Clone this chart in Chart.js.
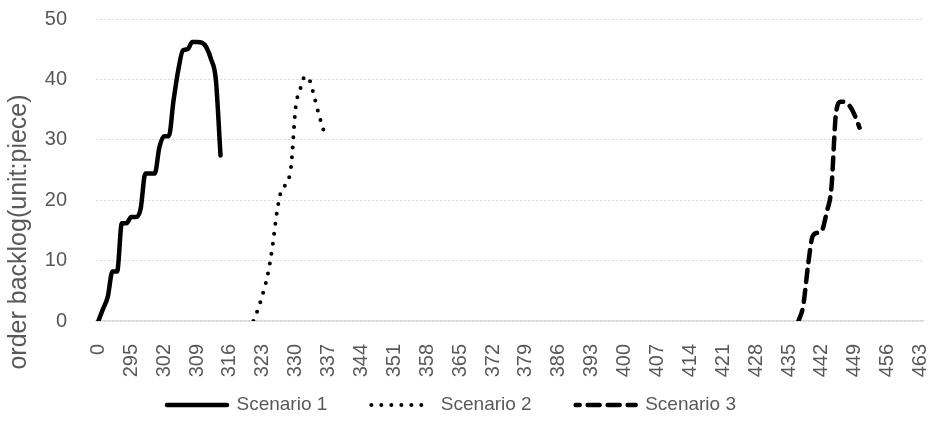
<!DOCTYPE html>
<html>
<head>
<meta charset="utf-8">
<script src="https://cdn.jsdelivr.net/npm/chart.js@4.4.1/dist/chart.umd.min.js"></script>
<style>
  html, body { margin: 0; padding: 0; background: #ffffff; }
</style>
</head>
<body>
<canvas id="myChart" width="929" height="430"></canvas>
<script>
//CATEGORIES: DAY 0, THEN DAYS 289..463
const days = [0];
for (let d = 289; d <= 463; d++) days.push(d);

//TICK LABELS SHOWN ON THE X AXIS
const tickLabels = [0, 295, 302, 309, 316, 323, 330, 337, 344, 351, 358, 365, 372,
  379, 386, 393, 400, 407, 414, 421, 428, 435, 442, 449, 456, 463];
const yTicks = [0, 10, 20, 30, 40, 50];

//SERIES (first day + values)
const scenario1Start = 0;
const scenario1 = [0, 2, 4, 8.2, 8.2, 16.2, 16.2, 17.2, 17.2, 18.6, 24.4, 24.4, 24.4,
  28.8, 30.6, 30.6, 36.5, 41.5, 44.8, 45, 46.2, 46.2, 46.1, 45.3, 43.3, 40, 27.4];
const scenario2Start = 321;
const scenario2 = [0, 2, 4.5, 7.5, 12, 18, 21.8, 22.7, 25.5, 35.4, 38.5, 40.5, 39.8,
  37, 34, 31.4];
const scenario3Start = 437;
const scenario3 = [0, 2.5, 9, 14, 14.6, 15, 18, 22, 34.5, 36.3, 36.2, 35.5, 34, 32];

const seriesNames = ["Scenario 1", "Scenario 2", "Scenario 3"];

const fontFamily = "'Liberation Sans', Arial, sans-serif";
const textColor = "#595959";

function spread(start, values) {
  const out = days.map(() => null);
  const i = days.indexOf(start);
  values.forEach((v, k) => { out[i + k] = v; });
  return out;
}

//Y AXIS TITLE (sits lower than the plot centre in the original)
const yTitle = {
  id: "yTitle",
  afterLayout(chart) {
    // let the rotated x labels run below the axis box without being clipped
    const x = chart.scales.x;
    x.bottom = chart.height;
    x.height = x.bottom - x.top;
    // legend sits a little left of centre
    chart.legend.left -= 10;
    chart.legend.right -= 10;
  },
  afterDraw(chart) {
    const ctx = chart.ctx;
    ctx.save();
    ctx.translate(19, 232);
    ctx.rotate(-Math.PI / 2);
    ctx.font = "25px " + fontFamily;
    ctx.fillStyle = textColor;
    ctx.textAlign = "center";
    ctx.textBaseline = "middle";
    ctx.fillText("order backlog(unit:piece)", 0, 0);
    ctx.restore();
  }
};

const lineBase = {
  borderColor: "#000000",
  backgroundColor: "#000000",
  pointRadius: 0,
  borderCapStyle: "round",
  cubicInterpolationMode: "monotone",
  spanGaps: false
};

const data = {
  labels: days,
  datasets: [
    Object.assign({}, lineBase, {
      label: seriesNames[0],
      data: spread(scenario1Start, scenario1),
      borderWidth: 4.5
    }),
    Object.assign({}, lineBase, {
      label: seriesNames[1],
      data: spread(scenario2Start, scenario2),
      borderWidth: 4,
      borderDash: [0, 10]
    }),
    Object.assign({}, lineBase, {
      label: seriesNames[2],
      data: spread(scenario3Start, scenario3),
      borderWidth: 4.5,
      borderDash: [12, 8]
    })
  ]
};

const config = {
  type: "line",
  data: data,
  options: {
    responsive: false,
    animation: false,
    layout: { padding: { top: 19, right: 6, bottom: 5.5, left: 0 } },
    plugins: {
      legend: {
        position: "bottom",
        labels: {
          usePointStyle: true,
          pointStyle: "line",
          pointStyleWidth: 60,
          padding: 44,
          color: textColor,
          font: { family: fontFamily, size: 19 },
          generateLabels: function (chart) {
            const items = Chart.defaults.plugins.legend.labels.generateLabels(chart);
            items.forEach((item) => {
              const ds = chart.data.datasets[item.datasetIndex];
              item.lineDash = ds.borderDash || [];
              item.lineDashOffset = ds.borderDash && ds.borderDash[0] > 0 ? 8 : 0;
              item.lineWidth = ds.borderWidth;
              item.lineCap = "round";
              item.strokeStyle = "#000000";
            });
            return items;
          }
        }
      },
      tooltip: { enabled: false }
    },
    scales: {
      x: {
        offset: true,
        grid: { display: false, drawTicks: false },
        border: { display: true, color: "#d9d9d9", width: 1.5 },
        ticks: {
          autoSkip: false,
          minRotation: 90,
          maxRotation: 90,
          padding: 23,
          color: textColor,
          font: { family: fontFamily, size: 20 },
          callback: function (value, index) {
            const d = days[index];
            return tickLabels.includes(d) ? String(d) : null;
          }
        },
        afterFit: function (scale) {
          scale.height = 30.5;
          scale.paddingLeft = 0;
          scale.paddingRight = 0;
        }
      },
      y: {
        min: yTicks[0],
        max: yTicks[yTicks.length - 1],
        grid: { color: "#d9d9d9", lineWidth: 1, drawTicks: false },
        border: { display: false, dash: [2, 2] },
        ticks: {
          stepSize: 10,
          padding: 29,
          color: textColor,
          font: { family: fontFamily, size: 20 }
        },
        afterFit: function (scale) {
          scale.width = 96;
          scale.paddingTop = 0;
          scale.paddingBottom = 0;
        }
      }
    }
  },
  plugins: [yTitle]
};

var myChart = new Chart(document.getElementById("myChart"), config);
</script>
</body>
</html>
